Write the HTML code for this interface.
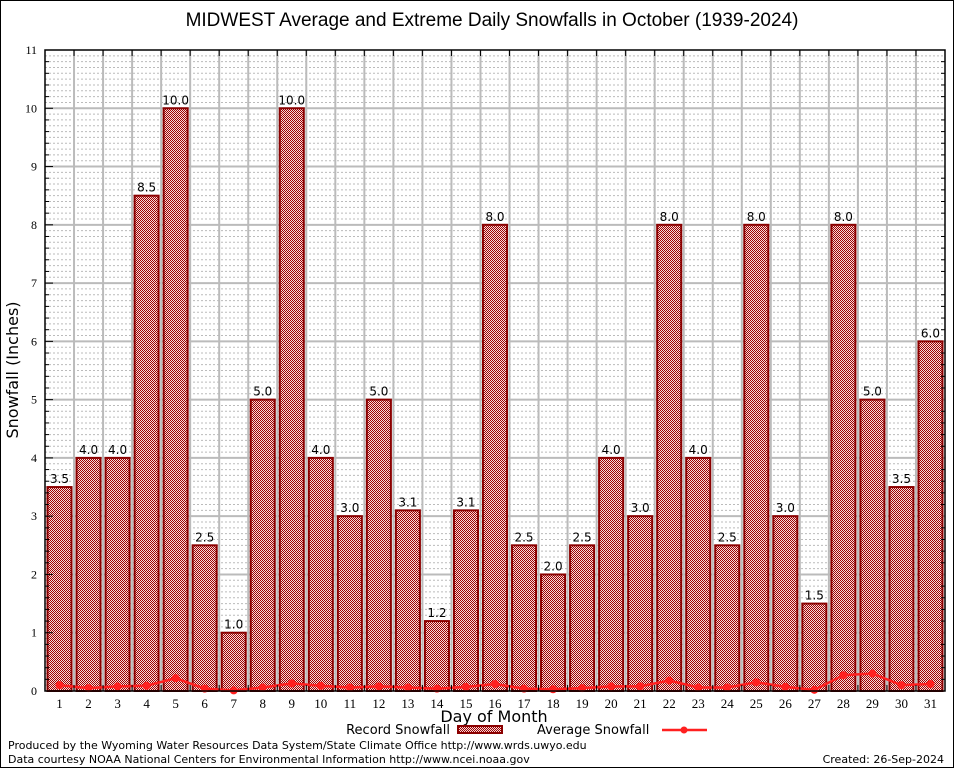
<!DOCTYPE html>
<html><head><meta charset="utf-8"><style>
html,body{margin:0;padding:0;background:#fff}
svg{display:block;font-family:"DejaVu Sans","Liberation Sans",sans-serif}
</style></head><body>
<svg id="chart" width="954" height="768" viewBox="0 0 954 768">
<defs>
<pattern id="chk" width="2" height="2" patternUnits="userSpaceOnUse">
<rect width="2" height="2" fill="#f4dcdc"/><rect width="1" height="1" fill="#a00000"/><rect x="1" y="1" width="1" height="1" fill="#a00000"/>
</pattern>
</defs>
<rect x="0.5" y="0.5" width="953" height="767" fill="#fff" stroke="#000"/>
<text x="492" y="26" font-size="19" text-anchor="middle" style="font-family:'Liberation Sans',sans-serif">MIDWEST Average and Extreme Daily Snowfalls in October (1939-2024)</text>
<g id="grid"></g>
<g id="bars"></g>
<g id="avg"></g>
<g id="axes"></g>
<text x="18" y="370" font-size="16" text-anchor="middle" transform="rotate(-90 18 370)">Snowfall (Inches)</text>
<text x="494" y="722" font-size="16" text-anchor="middle">Day of Month</text>
<g>
<text x="450" y="734" font-size="13" text-anchor="end">Record Snowfall</text>
<rect x="458" y="726" width="44" height="7" fill="url(#chk)" stroke="#8b0000" stroke-width="2"/>
<text x="537" y="734" font-size="13">Average Snowfall</text>
<line x1="662" y1="730" x2="707" y2="730" stroke="#ff2020" stroke-width="2.5"/>
<circle cx="684" cy="730" r="3.5" fill="#ff2020"/>
</g>
<text x="8" y="749" font-size="11">Produced by the Wyoming Water Resources Data System/State Climate Office http://www.wrds.uwyo.edu</text>
<text x="8" y="763" font-size="11">Data courtesy NOAA National Centers for Environmental Information http://www.ncei.noaa.gov</text>
<text x="944" y="763" font-size="11" text-anchor="end">Created: 26-Sep-2024</text>
</svg>
<script>
const days=[1,2,3,4,5,6,7,8,9,10,11,12,13,14,15,16,17,18,19,20,21,22,23,24,25,26,27,28,29,30,31];
const recordSnow=[3.5,4.0,4.0,8.5,10.0,2.5,1.0,5.0,10.0,4.0,3.0,5.0,3.1,1.2,3.1,8.0,2.5,2.0,2.5,4.0,3.0,8.0,4.0,2.5,8.0,3.0,1.5,8.0,5.0,3.5,6.0];
const avgSnow=[0.1,0.05,0.08,0.09,0.22,0.04,0.01,0.06,0.13,0.09,0.06,0.08,0.06,0.04,0.07,0.12,0.04,0.03,0.05,0.08,0.08,0.18,0.06,0.06,0.15,0.07,0.02,0.27,0.3,0.1,0.12];
const yTicks=[0,1,2,3,4,5,6,7,8,9,10,11];
const NS='http://www.w3.org/2000/svg';
const L=45,R=945,T=50,B=691,yMax=11;
const slot=(R-L)/days.length;
const yS=v=>B-(v/yMax)*(B-T);
const xC=i=>L+slot*(i+0.5);
const SERIF="font-family:'Liberation Serif',serif";
function mk(tag,attrs,parent){const e=document.createElementNS(NS,tag);for(const k in attrs)e.setAttribute(k,attrs[k]);parent.appendChild(e);return e;}
const grid=document.getElementById('grid'),bars=document.getElementById('bars'),avg=document.getElementById('avg'),axes=document.getElementById('axes');
mk('rect',{x:L,y:T,width:R-L,height:B-T,fill:'#fff'},grid);
for(let k=1;k<yMax*10;k++){if(k%10===0)continue;const y=yS(k/10);
const ln=mk('line',{x1:L,y1:y,x2:R,y2:y,stroke:'#bbb','stroke-width':1,'stroke-dasharray':'2,2'},grid);

}
for(let i=1;i<days.length;i++){const x=L+slot*i;
const ln=mk('line',{x1:x,y1:T,x2:x,y2:B,stroke:'#bbb','stroke-width':2},grid);

}
yTicks.forEach(v=>{const y=yS(v);
if(v>0&&v<yMax){const g=mk('line',{x1:L,y1:y,x2:R,y2:y,stroke:'#bbb','stroke-width':2},grid);

}
const t=mk('text',{x:L-8,y:y+4,'font-size':12,'text-anchor':'end',style:SERIF},axes);t.textContent=v;


mk('line',{x1:L,y1:y,x2:L+8,y2:y,stroke:'#000'},axes);});
for(let k=1;k<yMax*5;k++){if(k%5===0)continue;const y=yS(k/5);mk('line',{x1:L,y1:y,x2:L+4,y2:y,stroke:'#000'},axes);mk('line',{x1:R,y1:y,x2:R-4,y2:y,stroke:'#000'},axes);}
recordSnow.forEach((v,i)=>{const w=slot-5,x=xC(i)-w/2,y=yS(v);
const r=mk('rect',{x:x,y:y,width:w,height:B-y,fill:'url(#chk)',stroke:'#8b0000','stroke-width':2},bars);


const t=mk('text',{x:xC(i),y:y-4,'font-size':12,'text-anchor':'middle'},bars);t.textContent=v.toFixed(1);

});
const pts=avgSnow.map((v,i)=>xC(i)+','+yS(v)).join(' ');
const pl=mk('polyline',{points:pts,fill:'none',stroke:'#ff2020','stroke-width':2.5},avg);


avgSnow.forEach((v,i)=>{const c=mk('circle',{cx:xC(i),cy:yS(v),r:4,fill:'#ff2020'},avg);

});
const fr=mk('rect',{x:L,y:T,width:R-L,height:B-T,fill:'none',stroke:'#000','stroke-width':1.5},axes);


for(let i=0;i<=days.length;i++){const x=L+slot*i;mk('line',{x1:x,y1:T,x2:x,y2:T+6,stroke:'#000'},axes);mk('line',{x1:x,y1:B,x2:x,y2:B-6,stroke:'#000'},axes);}
days.forEach((d,i)=>{const t=mk('text',{x:xC(i),y:B+17,'font-size':13,'text-anchor':'middle',style:SERIF},axes);t.textContent=d;

});
</script>
</body></html>
